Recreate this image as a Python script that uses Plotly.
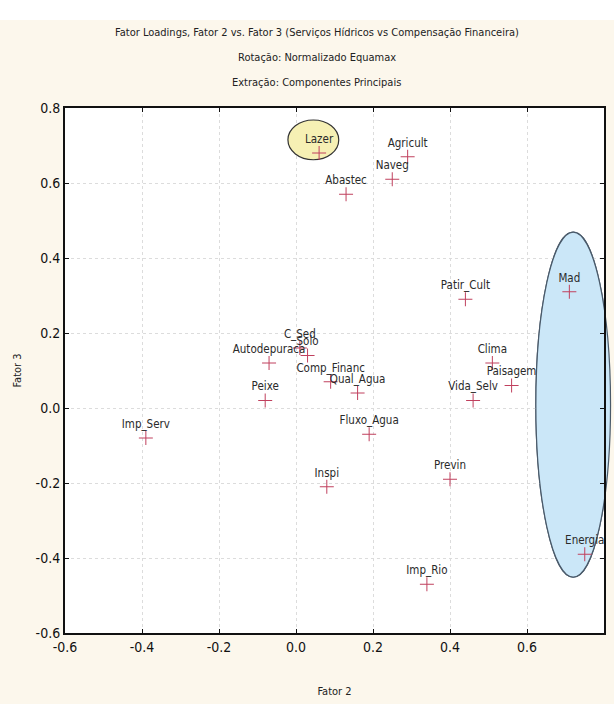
import plotly.graph_objects as go

# Factor loadings (Fator 2 vs Fator 3)
variables = ["Lazer", "Agricult", "Naveg", "Abastec", "Patir_Cult", "Mad",
             "C_Sed", "Solo", "Autodepuraca", "Peixe", "Imp_Serv", "Comp_Financ",
             "Qual_Agua", "Fluxo_Agua", "Inspi", "Previn", "Vida_Selv", "Clima",
             "Paisagem", "Imp_Rio", "Energia"]
fator2 = [0.06, 0.29, 0.25, 0.13, 0.44, 0.71,
          0.01, 0.03, -0.07, -0.08, -0.39, 0.09,
          0.16, 0.19, 0.08, 0.40, 0.46, 0.51,
          0.56, 0.34, 0.75]
fator3 = [0.68, 0.67, 0.61, 0.57, 0.29, 0.31,
          0.16, 0.14, 0.12, 0.02, -0.08, 0.07,
          0.04, -0.07, -0.21, -0.19, 0.02, 0.12,
          0.06, -0.47, -0.39]

x_ticks = [-0.6, -0.4, -0.2, 0.0, 0.2, 0.4, 0.6, 0.8]
y_ticks = [-0.6, -0.4, -0.2, 0.0, 0.2, 0.4, 0.6, 0.8]
x_range = [-0.6, 0.8]
y_range = [-0.6, 0.8]

title_lines = ["Fator Loadings, Fator 2 vs. Fator 3 (Serviços Hídricos vs Compensação Financeira)",
               "Rotação: Normalizado Equamax",
               "Extração: Componentes Principais"]

FONT = "Liberation Sans Narrow, Arial Narrow, DejaVu Sans Condensed, sans-serif"

W, H = 614, 704
M = dict(l=65, r=10, t=108, b=71)
plot_h = H - M["t"] - M["b"]

fig = go.Figure()
fig.add_trace(go.Scatter(
    x=fator2, y=fator3, mode="markers+text",
    text=variables, textposition="top center",
    textfont=dict(family=FONT, size=11.5, color="#2a2a2a"),
    marker=dict(symbol="cross-thin", size=10,
                line=dict(width=1, color="#c0405e")),
    cliponaxis=False, showlegend=False, hoverinfo="text+x+y",
))


def frac(v, rng):
    return (v - rng[0]) / (rng[1] - rng[0])


# Highlight around Lazer
fig.add_shape(type="circle", xref="x", yref="y",
              x0=0.045 - 0.066, x1=0.045 + 0.066,
              y0=0.715 - 0.053, y1=0.715 + 0.053,
              fillcolor="#f6f0b4", line=dict(color="#333333", width=1.2),
              layer="between")

# Highlight around Mad / Energia; the outline runs past the frame, so a
# paper-referenced copy sits underneath and a data-referenced copy hides the grid
cx, hw, cy, hh = 0.72, 0.097, 0.009, 0.46
ell_style = dict(type="circle", fillcolor="#cbe7f8",
                 line=dict(color="#4a5a6a", width=1.2))
fig.add_shape(xref="paper", yref="paper",
              x0=frac(cx - hw, x_range), x1=frac(cx + hw, x_range),
              y0=frac(cy - hh, y_range), y1=frac(cy + hh, y_range),
              layer="below", **ell_style)
fig.add_shape(xref="x", yref="y",
              x0=cx - hw, x1=cx + hw, y0=cy - hh, y1=cy + hh,
              layer="between", **ell_style)

# White band along the top edge of the page
fig.add_shape(type="rect", xref="paper", yref="paper", x0=-0.2, x1=1.1,
              y0=1 + (M["t"] - 20) / plot_h, y1=1 + M["t"] / plot_h,
              fillcolor="#ffffff", line=dict(width=0), layer="below")

for i, line in enumerate(title_lines):
    fig.add_annotation(text=line, xref="paper", yref="paper",
                       x=0.467, y=1.144 - 0.048 * i,
                       yanchor="middle", xanchor="center", showarrow=False,
                       font=dict(family=FONT, size=11, color="#222222"))

axis_common = dict(
    showline=True, linewidth=2, linecolor="#111111", mirror="ticks",
    ticks="inside", ticklen=4, tickcolor="#111111",
    showgrid=True, gridcolor="#dcdcdc", griddash="dot", gridwidth=1,
    zeroline=False, automargin=False,
    tickfont=dict(family=FONT, size=14, color="#111111"),
)

fig.update_xaxes(range=x_range, tickvals=x_ticks,
                 ticktext=[f"{v:.1f}" for v in x_ticks],
                 title=dict(text="Fator 2", standoff=34,
                            font=dict(family=FONT, size=11, color="#222222")),
                 **axis_common)
fig.update_yaxes(range=y_range, tickvals=y_ticks,
                 ticktext=[f"{v:.1f}" for v in y_ticks],
                 title=dict(text="Fator 3", standoff=12,
                            font=dict(family=FONT, size=11, color="#222222")),
                 **axis_common)

fig.update_layout(
    width=W, height=H, margin=M,
    paper_bgcolor="#fcf7ec", plot_bgcolor="#ffffff",
)

fig.write_html("out.html")
